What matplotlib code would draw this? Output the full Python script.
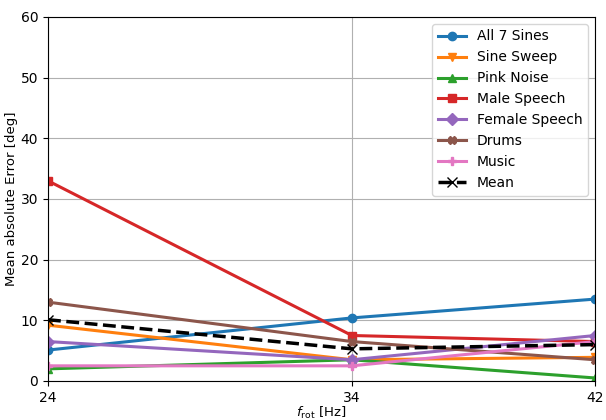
import matplotlib
matplotlib.use('Agg')
import matplotlib.pyplot as plt

f_rot = [24, 34, 42]
all_sines = [5.1, 10.4, 13.5]
sine_sweep = [9.2, 3.5, 3.9]
pink_noise = [2.0, 3.5, 0.5]
male_speech = [33.0, 7.5, 6.5]
female_speech = [6.5, 3.5, 7.5]
drums = [13.0, 6.5, 3.5]
music = [2.5, 2.5, 6.5]
mean_err = [10.1, 5.3, 6.0]

series = [
    ("All 7 Sines", all_sines, 'o'),
    ("Sine Sweep", sine_sweep, 'v'),
    ("Pink Noise", pink_noise, '^'),
    ("Male Speech", male_speech, 's'),
    ("Female Speech", female_speech, 'D'),
    ("Drums", drums, 'X'),
    ("Music", music, 'P'),
]

plt.rcParams['font.size'] = 9.5

fig = plt.figure(figsize=(6.06, 4.2), dpi=100)
ax = fig.add_axes([48 / 606, 39 / 420, 547 / 606, 364 / 420])

for name, vals, m in series:
    ax.plot(f_rot, vals, marker=m, markersize=6, linewidth=2.2, label=name)
ax.plot(f_rot, mean_err, 'k--', marker='x', markersize=7, linewidth=2.5, label="Mean")

ax.set_xlim(24, 42)
ax.set_ylim(0, 60)
ax.set_xticks(f_rot)
ax.set_yticks(range(0, 61, 10))
ax.tick_params(labelsize=10)
ax.grid(True, color='#b0b0b0', linewidth=0.8)
ax.set_xlabel(r"$f_{\mathrm{rot}}$ [Hz]", labelpad=0)
ax.set_ylabel("Mean absolute Error [deg]", labelpad=2)
ax.legend(loc='upper right', fontsize=10)

plt.savefig('out.png', dpi=100)
